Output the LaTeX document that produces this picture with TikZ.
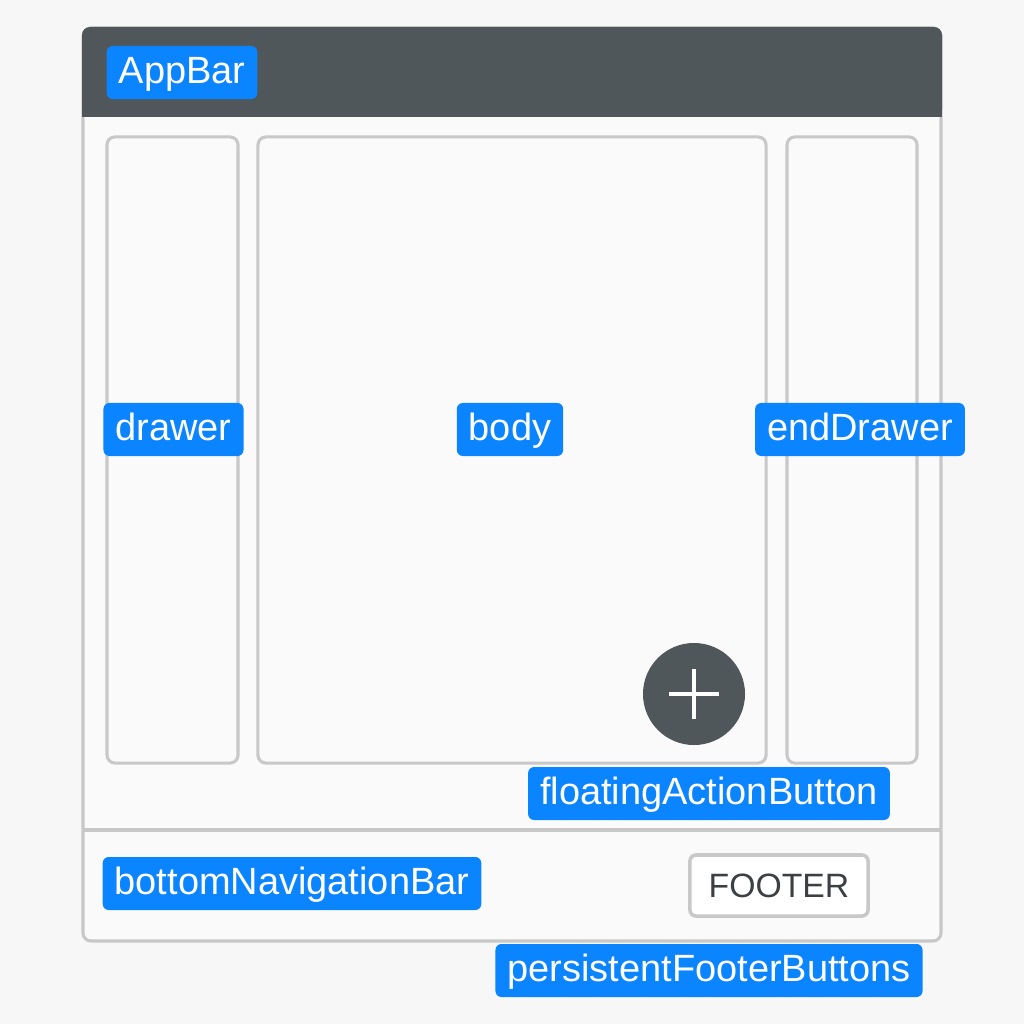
\documentclass[tikz,border=0pt]{standalone}
\usepackage{fontspec}
\setmainfont{Liberation Sans}
\usetikzlibrary{positioning, calc}
\definecolor{barGray}{HTML}{50575A}
\definecolor{frameGray}{HTML}{C8C8C8}
\definecolor{tagBlue}{HTML}{0A84FF}
\definecolor{pageBg}{HTML}{F7F7F7}
\definecolor{footerText}{HTML}{3C4043}

\begin{document}
\begin{tikzpicture}[
        x=0.025cm, y=-0.025cm,
        tag/.style={fill=tagBlue, text=white, rounded corners=0.15cm, minimum height=1.325cm, inner xsep=0.3cm, text height=19.5pt, text depth=4.5pt, font=\fontsize{27}{30}\selectfont},
        slot/.style={draw=frameGray, line width=2.2pt, rounded corners=0.2cm, fill=pageBg!60!white, minimum height=15.65cm}
    ]
        % Page
        \fill[pageBg] (0,0) rectangle (1024,1024);
        \useasboundingbox (0,0) rectangle (1024,1024);

        % Scaffold frame
        \draw[frameGray, line width=2.2pt, rounded corners=0.2cm, fill=pageBg!60!white] (83,28) rectangle (941,941);
        \fill[barGray, rounded corners=0.2cm] (82,27) rectangle (942,117);
        \fill[barGray] (82,70) rectangle (942,117);
        \draw[frameGray, line width=2.2pt] (83,830) -- (941,830);

        % Slots
        \node[slot, minimum width=3.275cm] (drawerSlot) at (172.5,450) {};
        \node[slot, minimum width=12.7cm] (bodySlot) at (512,450) {};
        \node[slot, minimum width=3.25cm] (endDrawerSlot) at (852,450) {};

        % Floating action button
        \node[circle, fill=barGray, minimum size=2.55cm] (fab) at (694,694) {};
        \draw[white, line width=0.12cm] ($(fab.center)+(-25,0)$) -- ($(fab.center)+(25,0)$);
        \draw[white, line width=0.12cm] ($(fab.center)+(0,-25)$) -- ($(fab.center)+(0,25)$);

        % Footer button
        \node[draw=frameGray, line width=2.5pt, fill=white, rounded corners=0.15cm, minimum width=4.45cm, minimum height=1.525cm, text=footerText, font=\fontsize{24}{28}\selectfont] (footerBtn) at (779,885.5) {FOOTER};

        % Labels
        \node[tag] (appBarTag) at (182,72.5) {AppBar};
        \node[tag] (drawerTag) at (173.5,429.5) {drawer};
        \node[tag] (bodyTag) at (510,429.5) {body};
        \node[tag] (endDrawerTag) at (860,429.5) {endDrawer};
        \node[tag] (fabTag) at (709,793.5) {floatingActionButton};
        \node[tag] (bottomNavTag) at (292,883.5) {bottomNavigationBar};
        \node[tag] (footerTag) at (709,970.5) {persistentFooterButtons};
    \end{tikzpicture}
\end{document}
